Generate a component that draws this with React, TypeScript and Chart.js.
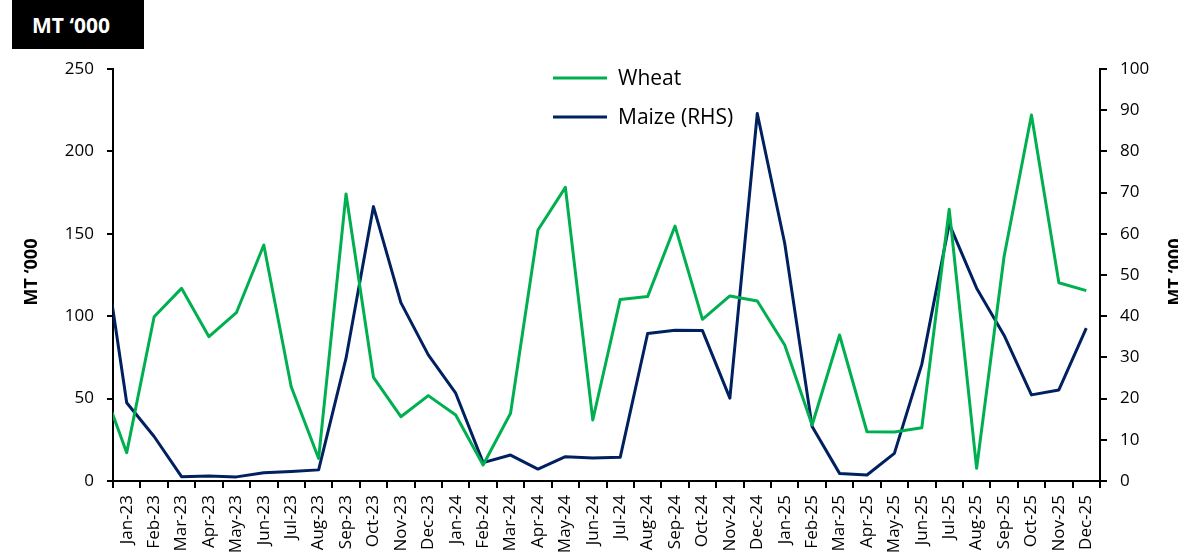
import React, { useEffect, useRef } from "react";
import { Chart, registerables } from "chart.js";

Chart.register(...registerables);

// Dec-22 is a hidden lead-in category (the line enters from the left axis)
const months = [
  "Dec-22",
  "Jan-23", "Feb-23", "Mar-23", "Apr-23", "May-23", "Jun-23", "Jul-23", "Aug-23", "Sep-23", "Oct-23", "Nov-23", "Dec-23",
  "Jan-24", "Feb-24", "Mar-24", "Apr-24", "May-24", "Jun-24", "Jul-24", "Aug-24", "Sep-24", "Oct-24", "Nov-24", "Dec-24",
  "Jan-25", "Feb-25", "Mar-25", "Apr-25", "May-25", "Jun-25", "Jul-25", "Aug-25", "Sep-25", "Oct-25", "Nov-25", "Dec-25",
];

const wheat = [
  62.8,
  17.2, 99.7, 116.9, 87.6, 102.1, 143.2, 57.2, 13.7, 174.2, 62.9, 39.0, 51.8,
  40.0, 9.7, 41.1, 152.3, 178.2, 37.0, 110.2, 111.9, 154.7, 98.1, 112.3, 109.2,
  82.5, 34.0, 88.6, 29.9, 29.7, 32.3, 164.9, 7.7, 136.1, 222.1, 120.3, 115.5,
];

const maize = [
  64.0,
  19.0, 10.8, 1.05, 1.2, 1.0, 2.0, 2.3, 2.7, 29.8, 66.6, 43.3, 30.6,
  21.3, 4.45, 6.3, 2.9, 5.9, 5.6, 5.75, 35.8, 36.6, 36.5, 20.1, 89.2,
  57.7, 13.2, 1.85, 1.46, 6.7, 28.3, 62.4, 46.8, 35.4, 20.9, 22.1, 37.1,
];

const seriesNames = ["Wheat", "Maize (RHS)"];
const seriesColors = ["#00B050", "#002060"];
const unitTitle = "MT \u2018000";

const FONT = "'Open Sans', 'Noto Sans', sans-serif";

export default function App() {
  const ref = useRef<HTMLCanvasElement>(null);

  useEffect(() => {
    if (!ref.current) return;

    const overlay = {
      id: "overlay",
      afterDraw(chart: any) {
        const { ctx, chartArea } = chart;
        // legend
        chart.data.datasets.forEach((ds: any, i: number) => {
          const y = chartArea.top + 9 + i * 39;
          const x0 = chartArea.left + 440;
          ctx.save();
          ctx.strokeStyle = ds.borderColor;
          ctx.lineWidth = 3;
          ctx.beginPath();
          ctx.moveTo(x0, y);
          ctx.lineTo(x0 + 54, y);
          ctx.stroke();
          ctx.fillStyle = "#000";
          ctx.font = `21px ${FONT}`;
          ctx.textAlign = "left";
          ctx.textBaseline = "middle";
          ctx.fillText(ds.label, x0 + 65, y + 1);
          ctx.restore();
        });
        // axis titles
        const cy = (chartArea.top + chartArea.bottom) / 2 - 3;
        ctx.save();
        ctx.font = `bold 18px ${FONT}`;
        ctx.fillStyle = "#000";
        ctx.textAlign = "center";
        ctx.textBaseline = "alphabetic";
        ctx.translate(37, cy);
        ctx.rotate(-Math.PI / 2);
        ctx.fillText(unitTitle, 0, 0);
        ctx.restore();

        ctx.save();
        ctx.font = `bold 18px ${FONT}`;
        ctx.fillStyle = "#000";
        ctx.textAlign = "center";
        ctx.textBaseline = "alphabetic";
        ctx.translate(chartArea.right + 81, cy);
        ctx.rotate(-Math.PI / 2);
        ctx.fillText(unitTitle, 0, 0);
        ctx.restore();
      },
    };

    const chart = new Chart(ref.current, {
      type: "line",
      data: {
        labels: months,
        datasets: [
          {
            label: seriesNames[0],
            data: wheat,
            borderColor: seriesColors[0],
            backgroundColor: seriesColors[0],
            borderWidth: 3,
            borderJoinStyle: "round",
            pointRadius: 0,
            tension: 0,
            yAxisID: "y",
          },
          {
            label: seriesNames[1],
            data: maize,
            borderColor: seriesColors[1],
            backgroundColor: seriesColors[1],
            borderWidth: 3,
            borderJoinStyle: "round",
            pointRadius: 0,
            tension: 0,
            yAxisID: "y1",
          },
        ],
      },
      options: {
        animation: false,
        responsive: true,
        maintainAspectRatio: false,
        layout: { padding: { top: 69, left: 0, right: 0, bottom: 0 } },
        plugins: {
          legend: { display: false },
          tooltip: { enabled: false },
          title: { display: false },
        },
        font: { family: FONT },
        scales: {
          x: {
            type: "category",
            min: "Jan-23",
            offset: true,
            afterFit: (s: any) => {
              s.height = 76;
            },
            grid: {
              display: true,
              offset: true,
              drawOnChartArea: false,
              drawTicks: true,
              tickLength: 7,
              color: "#000",
              lineWidth: 2,
            },
            border: { display: true, color: "#000", width: 2 },
            ticks: {
              autoSkip: false,
              minRotation: 90,
              maxRotation: 90,
              padding: 7,
              color: "#000",
              font: { family: FONT, size: 17 },
            },
          },
          y: {
            type: "linear",
            position: "left",
            min: 0,
            max: 250,
            afterFit: (s: any) => {
              s.width = 113;
            },
            grid: {
              drawOnChartArea: false,
              drawTicks: true,
              tickLength: 6,
              color: "#000",
              lineWidth: 2,
            },
            border: { display: true, color: "#000", width: 2 },
            ticks: {
              stepSize: 50,
              padding: 13,
              color: "#000",
              font: { family: FONT, size: 17 },
            },
          },
          y1: {
            type: "linear",
            position: "right",
            min: 0,
            max: 100,
            afterFit: (s: any) => {
              s.width = 78;
            },
            grid: {
              drawOnChartArea: false,
              drawTicks: true,
              tickLength: 7,
              color: "#000",
              lineWidth: 2,
            },
            border: { display: true, color: "#000", width: 2 },
            ticks: {
              stepSize: 10,
              padding: 13,
              color: "#000",
              font: { family: FONT, size: 17 },
            },
          },
        },
      } as any,
      plugins: [overlay],
    });

    return () => chart.destroy();
  }, []);

  return (
    <div
      style={{
        position: "absolute",
        left: 0,
        top: 0,
        width: 1178,
        height: 557,
        background: "#fff",
        overflow: "hidden",
      }}
    >
      <canvas ref={ref} />
      <div
        style={{
          position: "absolute",
          left: 12,
          top: 0,
          width: 132,
          height: 49,
          boxSizing: "border-box",
          paddingLeft: 20,
          background: "#000",
          color: "#fff",
          fontFamily: FONT,
          fontWeight: "bold",
          fontSize: 21,
          lineHeight: "50px",
          whiteSpace: "nowrap",
        }}
      >
        {unitTitle}
      </div>
    </div>
  );
}
